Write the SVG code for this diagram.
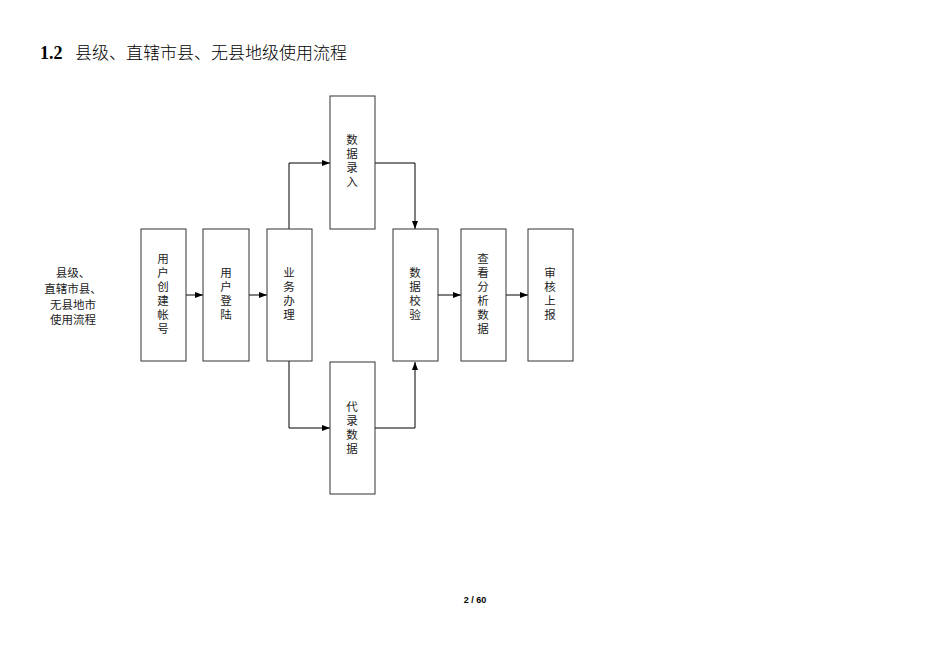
<svg xmlns="http://www.w3.org/2000/svg" width="950" height="672" viewBox="0 0 950 672">
<style>
.b{fill:#fff;stroke:#333;stroke-width:1}
.t{font-family:"Noto Sans CJK SC",sans-serif;font-size:11.5px;fill:#222;text-anchor:middle}
.c{fill:none;stroke:#000;stroke-width:1}
</style>
<defs><marker id="a" markerWidth="8" markerHeight="6" refX="8" refY="3" orient="auto" markerUnits="userSpaceOnUse"><path d="M0,0L8,3L0,6z" fill="#000"/></marker></defs>
<rect width="950" height="672" fill="#fff"/>
<text x="40" y="59" font-family="Liberation Serif,serif" font-size="18" font-weight="bold" fill="#000">1.2</text>
<text x="75" y="59" font-family="'Noto Sans CJK SC',sans-serif" font-size="17" font-weight="300" fill="#000">县级、直辖市县、无县地级使用流程</text>
<g class="t">
<text x="73" y="277">县级、</text><text x="73" y="293">直辖市县、</text><text x="73" y="309">无县地市</text><text x="73" y="324">使用流程</text>
</g>
<g id="connectors">
<path class="c" d="M186,295H203" marker-end="url(#a)"/>
<path class="c" d="M249,295H267" marker-end="url(#a)"/>
<path class="c" d="M289,229V163H330" marker-end="url(#a)"/>
<path class="c" d="M289,361V428H330" marker-end="url(#a)"/>
<path class="c" d="M375,163H415V229" marker-end="url(#a)"/>
<path class="c" d="M375,428H415V362" marker-end="url(#a)"/>
<path class="c" d="M438,295H461" marker-end="url(#a)"/>
<path class="c" d="M506,295H528" marker-end="url(#a)"/>
</g>
<g id="n1"><rect class="b" x="141" y="229" width="45" height="132"/><g class="t"><text x="163" y="263">用</text><text x="163" y="277">户</text><text x="163" y="291">创</text><text x="163" y="305">建</text><text x="163" y="319">帐</text><text x="163" y="333">号</text></g></g>
<g id="n2"><rect class="b" x="203" y="229" width="46" height="132"/><g class="t"><text x="226" y="277">用</text><text x="226" y="291">户</text><text x="226" y="305">登</text><text x="226" y="319">陆</text></g></g>
<g id="n3"><rect class="b" x="267" y="229" width="45" height="132"/><g class="t"><text x="289" y="277">业</text><text x="289" y="291">务</text><text x="289" y="305">办</text><text x="289" y="319">理</text></g></g>
<g id="n4"><rect class="b" x="330" y="96" width="45" height="133"/><g class="t"><text x="352" y="144">数</text><text x="352" y="158">据</text><text x="352" y="172">录</text><text x="352" y="186">入</text></g></g>
<g id="n5"><rect class="b" x="330" y="362" width="45" height="132"/><g class="t"><text x="352" y="411">代</text><text x="352" y="425">录</text><text x="352" y="439">数</text><text x="352" y="453">据</text></g></g>
<g id="n6"><rect class="b" x="393" y="229" width="45" height="132"/><g class="t"><text x="415" y="277">数</text><text x="415" y="291">据</text><text x="415" y="305">校</text><text x="415" y="319">验</text></g></g>
<g id="n7"><rect class="b" x="461" y="229" width="45" height="132"/><g class="t"><text x="483" y="263">查</text><text x="483" y="277">看</text><text x="483" y="291">分</text><text x="483" y="305">析</text><text x="483" y="319">数</text><text x="483" y="333">据</text></g></g>
<g id="n8"><rect class="b" x="528" y="229" width="45" height="132"/><g class="t"><text x="550" y="277">审</text><text x="550" y="291">核</text><text x="550" y="305">上</text><text x="550" y="319">报</text></g></g>
<text x="475" y="603" font-family="Liberation Sans,sans-serif" font-size="9" font-weight="bold" text-anchor="middle">2 / 60</text>
</svg>
